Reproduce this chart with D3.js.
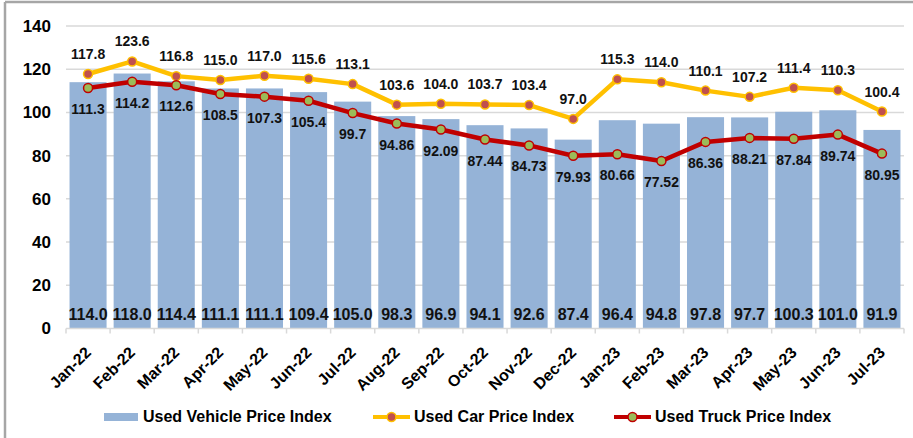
<!DOCTYPE html>
<html>
<head>
<meta charset="utf-8">
<script src="https://cdn.jsdelivr.net/npm/d3@7"></script>
<style>
  body { margin: 0; background: #fff; }
  svg { display: block; font-family: "Liberation Sans", Arial, sans-serif; }
</style>
</head>
<body>
<svg></svg>
<script>
var months = ["Jan-22","Feb-22","Mar-22","Apr-22","May-22","Jun-22","Jul-22","Aug-22","Sep-22","Oct-22","Nov-22","Dec-22",
              "Jan-23","Feb-23","Mar-23","Apr-23","May-23","Jun-23","Jul-23"];
var vehicleIndex = [114.0,118.0,114.4,111.1,111.1,109.4,105.0,98.3,96.9,94.1,92.6,87.4,96.4,94.8,97.8,97.7,100.3,101.0,91.9];
var carIndex = [117.8,123.6,116.8,115.0,117.0,115.6,113.1,103.6,104.0,103.7,103.4,97.0,115.3,114.0,110.1,107.2,111.4,110.3,100.4];
var truckIndex = [111.3,114.2,112.6,108.5,107.3,105.4,99.7,94.86,92.09,87.44,84.73,79.93,80.66,77.52,86.36,88.21,87.84,89.74,80.95];
var yTicks = [0,20,40,60,80,100,120,140];
var seriesNames = ["Used Vehicle Price Index","Used Car Price Index","Used Truck Price Index"];

var screen = { width: 913, height: 438 };
var margins = { top: 26, bottom: 109, left: 66, right: 9 };

var barColor = "#95b3d7";
var carColor = "#ffc000";
var carDot = "#c0504d";
var truckColor = "#c00000";
var truckDot = "#9bbb59";

var svg = d3.select("svg")
  .attr("width", screen.width)
  .attr("height", screen.height);

var xScale = d3.scaleBand()
  .domain(months)
  .range([margins.left, screen.width - margins.right])
  .paddingInner(0.16)
  .paddingOuter(0.08);

var yScale = d3.scaleLinear()
  .domain([0, 140])
  .range([screen.height - margins.bottom - 0.5, margins.top]);

var step = xScale.step();
var bw = xScale.bandwidth();
var cx = function(d, i) { return xScale(months[i]) + bw / 2; };

// frame (image is cropped, only top and left edge show)
svg.append("line").attr("x1", 5).attr("x2", screen.width).attr("y1", 2).attr("y2", 2)
  .attr("stroke", "#a6a6a6").attr("stroke-width", 2.5);
svg.append("line").attr("x1", 5).attr("x2", 5).attr("y1", 2).attr("y2", screen.height)
  .attr("stroke", "#a6a6a6").attr("stroke-width", 2.5);

// grid
svg.append("g")
  .selectAll("line")
  .data(yTicks.filter(function(d) { return d > 0; }))
  .enter()
  .append("line")
  .attr("x1", margins.left)
  .attr("x2", screen.width - margins.right)
  .attr("y1", function(d) { return yScale(d); })
  .attr("y2", function(d) { return yScale(d); })
  .attr("stroke", "#d9d9d9")
  .attr("stroke-width", 1.5);

// y axis
var yAxis = d3.axisLeft(yScale).tickValues(yTicks).tickSize(0).tickPadding(0);
svg.append("g")
  .attr("transform", "translate(" + (margins.left - 15) + ",0)")
  .call(yAxis)
  .call(function(g) { g.select(".domain").remove(); })
  .selectAll("text")
  .attr("font-size", 17)
  .attr("font-weight", "bold")
  .attr("font-family", "Liberation Sans, Arial, sans-serif")
  .attr("fill", "#000");

// bars
svg.append("g")
  .selectAll("rect")
  .data(vehicleIndex)
  .enter()
  .append("rect")
  .attr("x", function(d, i) { return xScale(months[i]); })
  .attr("width", bw)
  .attr("y", function(d) { return yScale(d); })
  .attr("height", function(d) { return yScale(0) - yScale(d); })
  .attr("fill", barColor);

// x axis line + ticks at category boundaries
var x0 = yScale(0);
svg.append("line")
  .attr("x1", margins.left).attr("x2", screen.width - margins.right)
  .attr("y1", x0).attr("y2", x0)
  .attr("stroke", "#d9d9d9").attr("stroke-width", 1.5);
svg.append("g")
  .selectAll("line")
  .data(months.concat(["end"]))
  .enter()
  .append("line")
  .attr("x1", function(d, i) { return margins.left + i * step; })
  .attr("x2", function(d, i) { return margins.left + i * step; })
  .attr("y1", x0).attr("y2", x0 + 5)
  .attr("stroke", "#d9d9d9").attr("stroke-width", 1.5);

svg.append("g")
  .selectAll("text")
  .data(months)
  .enter()
  .append("text")
  .attr("transform", function(d) {
    return "translate(" + (xScale(d) + bw / 2 + 4) + "," + (x0 + 25) + ") rotate(-45)";
  })
  .attr("text-anchor", "end")
  .attr("font-size", 16)
  .attr("font-weight", "bold")
  .text(function(d) { return d; });

// bar labels
svg.append("g")
  .selectAll("text")
  .data(vehicleIndex)
  .enter()
  .append("text")
  .attr("x", cx)
  .attr("y", x0 - 9)
  .attr("text-anchor", "middle")
  .attr("font-size", 16)
  .attr("font-weight", "bold")
  .attr("fill", "#111")
  .text(function(d) { return d.toFixed(1); });

var line = d3.line()
  .x(cx)
  .y(function(d) { return yScale(d); });

// car line
svg.append("path")
  .datum(carIndex)
  .attr("d", line)
  .attr("fill", "none")
  .attr("stroke", carColor)
  .attr("stroke-width", 4.5)
  .attr("stroke-linejoin", "round");

svg.append("g")
  .selectAll("circle")
  .data(carIndex)
  .enter()
  .append("circle")
  .attr("cx", cx)
  .attr("cy", function(d) { return yScale(d); })
  .attr("r", 4.5)
  .attr("fill", carDot)
  .attr("stroke", carColor)
  .attr("stroke-width", 1.5);

svg.append("g")
  .selectAll("text")
  .data(carIndex)
  .enter()
  .append("text")
  .attr("x", cx)
  .attr("y", function(d) { return yScale(d) - 15; })
  .attr("text-anchor", "middle")
  .attr("font-size", 14)
  .attr("font-weight", "bold")
  .attr("fill", "#111")
  .text(function(d) { return d.toFixed(1); });

// truck line
svg.append("path")
  .datum(truckIndex)
  .attr("d", line)
  .attr("fill", "none")
  .attr("stroke", truckColor)
  .attr("stroke-width", 4.5)
  .attr("stroke-linejoin", "round");

svg.append("g")
  .selectAll("circle")
  .data(truckIndex)
  .enter()
  .append("circle")
  .attr("cx", cx)
  .attr("cy", function(d) { return yScale(d); })
  .attr("r", 4.5)
  .attr("fill", truckDot)
  .attr("stroke", truckColor)
  .attr("stroke-width", 1.5);

svg.append("g")
  .selectAll("text")
  .data(truckIndex)
  .enter()
  .append("text")
  .attr("x", cx)
  .attr("y", function(d) { return yScale(d) + 26; })
  .attr("text-anchor", "middle")
  .attr("font-size", 14)
  .attr("font-weight", "bold")
  .attr("fill", "#111")
  .text(function(d) { return String(d); });

// legend
var legY = 417;
var legend = svg.append("g").attr("font-size", 16).attr("font-weight", "bold");

legend.append("rect")
  .attr("x", 104).attr("y", legY - 4).attr("width", 34).attr("height", 8)
  .attr("fill", barColor);
legend.append("text").attr("x", 143).attr("y", legY + 5).text(seriesNames[0]);

legend.append("line")
  .attr("x1", 373).attr("x2", 410).attr("y1", legY).attr("y2", legY)
  .attr("stroke", carColor).attr("stroke-width", 4);
legend.append("circle")
  .attr("cx", 391.5).attr("cy", legY).attr("r", 4.5)
  .attr("fill", carDot).attr("stroke", carColor).attr("stroke-width", 1.5);
legend.append("text").attr("x", 414).attr("y", legY + 5).text(seriesNames[1]);

legend.append("line")
  .attr("x1", 614).attr("x2", 651).attr("y1", legY).attr("y2", legY)
  .attr("stroke", truckColor).attr("stroke-width", 4);
legend.append("circle")
  .attr("cx", 632.5).attr("cy", legY).attr("r", 4.5)
  .attr("fill", truckDot).attr("stroke", truckColor).attr("stroke-width", 1.5);
legend.append("text").attr("x", 655).attr("y", legY + 5).text(seriesNames[2]);
</script>
</body>
</html>
